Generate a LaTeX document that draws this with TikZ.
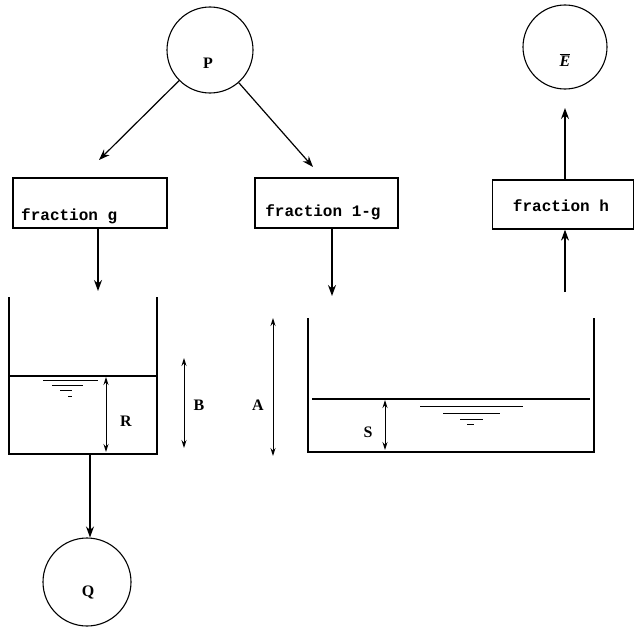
\documentclass[tikz,border=0pt]{standalone}
\usepackage{fontspec}
\setmainfont{Liberation Serif}
\newfontfamily\boxfont{Liberation Mono}
\usetikzlibrary{arrows.meta}
\begin{document}
\begin{tikzpicture}[x=1pt,y=-1pt,
  flow/.style={line width=1.2pt,-{Stealth[length=11pt,width=8pt]}},
  dim/.style={line width=0.9pt,{Stealth[length=8pt,width=5pt]}-{Stealth[length=8pt,width=5pt]}},
  wall/.style={line width=1.7pt},
  ring/.style={circle,draw,line width=1.1pt,minimum size=86pt,inner sep=0pt},
  fbox/.style={draw,line width=1.3pt,inner sep=0pt},
  ftext/.style={font=\boxfont\bfseries\fontsize{16}{16}\selectfont,inner sep=0pt},
  lab/.style={font=\bfseries\fontsize{16}{16}\selectfont,inner sep=0pt},
  surf/.style={line width=0.9pt}]
\useasboundingbox (0,0) rectangle (634,626);
% circles
\node[ring] (P) at (210,50) {};
\node[lab] (Pt) at (208,63) {P};
\node[ring,minimum size=84pt] (E) at (565,47) {};
\node[lab] (Et) at (565,60) {$\overline{\textbf{\textit{E}}}$};
\node[ring,minimum size=88pt] (Q) at (87,582) {};
\node[lab] (Qt) at (88,592) {Q};
% boxes
\node[fbox,minimum width=154pt,minimum height=50pt] (G) at (90,203) {};
\node[ftext,anchor=base west] (Gt) at (21,220) {fraction g};
\node[fbox,minimum width=143pt,minimum height=50pt] (G1) at (326.5,203) {};
\node[ftext] (G1t) at (323,212) {fraction 1-g};
\node[fbox,minimum width=141pt,minimum height=49pt] (H) at (563,204.5) {};
\node[ftext] (Ht) at (561,206) {fraction h};
% arrows from P
\coordinate (pl) at (99,160);
\coordinate (pr) at (313,167);
\draw[flow] (P) -- (pl);
\draw[flow] (P) -- (pr);
% arrows into tanks
\coordinate (tl) at (98,291);
\coordinate (tr) at (332,296);
\draw[flow] (G.south -| tl) -- (tl);
\draw[flow] (G1.south -| tr) -- (tr);
% evaporation
\coordinate (hb) at (565,292);
\coordinate (et) at (565,108);
\draw[flow] (hb) -- (hb |- H.south);
\draw[flow] (hb |- H.north) -- (et);
% left tank
\draw[wall] (9,297) -- (9,454) -- (157,454) -- (157,297);
\draw[line width=1.1pt] (9,376) -- (157,376);
\draw[surf] (43,380) -- (98,380);
\draw[surf] (52,385) -- (83,385);
\draw[surf] (60,390) -- (72,390);
\draw[surf] (68,396) -- (72,396);
\coordinate (r1) at (106,377);
\coordinate (r2) at (106,452);
\draw[dim] (r1) -- (r2);
\node[lab] (R) at (126,421) {R};
\coordinate (b1) at (184,358);
\coordinate (b2) at (184,448);
\draw[dim] (b1) -- (b2);
\node[lab] (B) at (199,405) {B};
% outflow
\coordinate (qo) at (90,455);
\draw[flow] (qo) -- (Q.north -| qo);
% right tank
\draw[wall] (308,318) -- (308,452) -- (594,452) -- (594,318);
\draw[line width=1.1pt] (312,399) -- (590,399);
\draw[surf] (420,406) -- (523,406);
\draw[surf] (443,413) -- (500,413);
\draw[surf] (460,419) -- (483,419);
\draw[surf] (467,424) -- (474,424);
\coordinate (s1) at (385,400);
\coordinate (s2) at (385,450);
\draw[dim] (s1) -- (s2);
\node[lab] (S) at (368,432) {S};
\coordinate (a1) at (273,318);
\coordinate (a2) at (273,456);
\draw[dim] (a1) -- (a2);
\node[lab] (A) at (258,405) {A};
\end{tikzpicture}
\end{document}
